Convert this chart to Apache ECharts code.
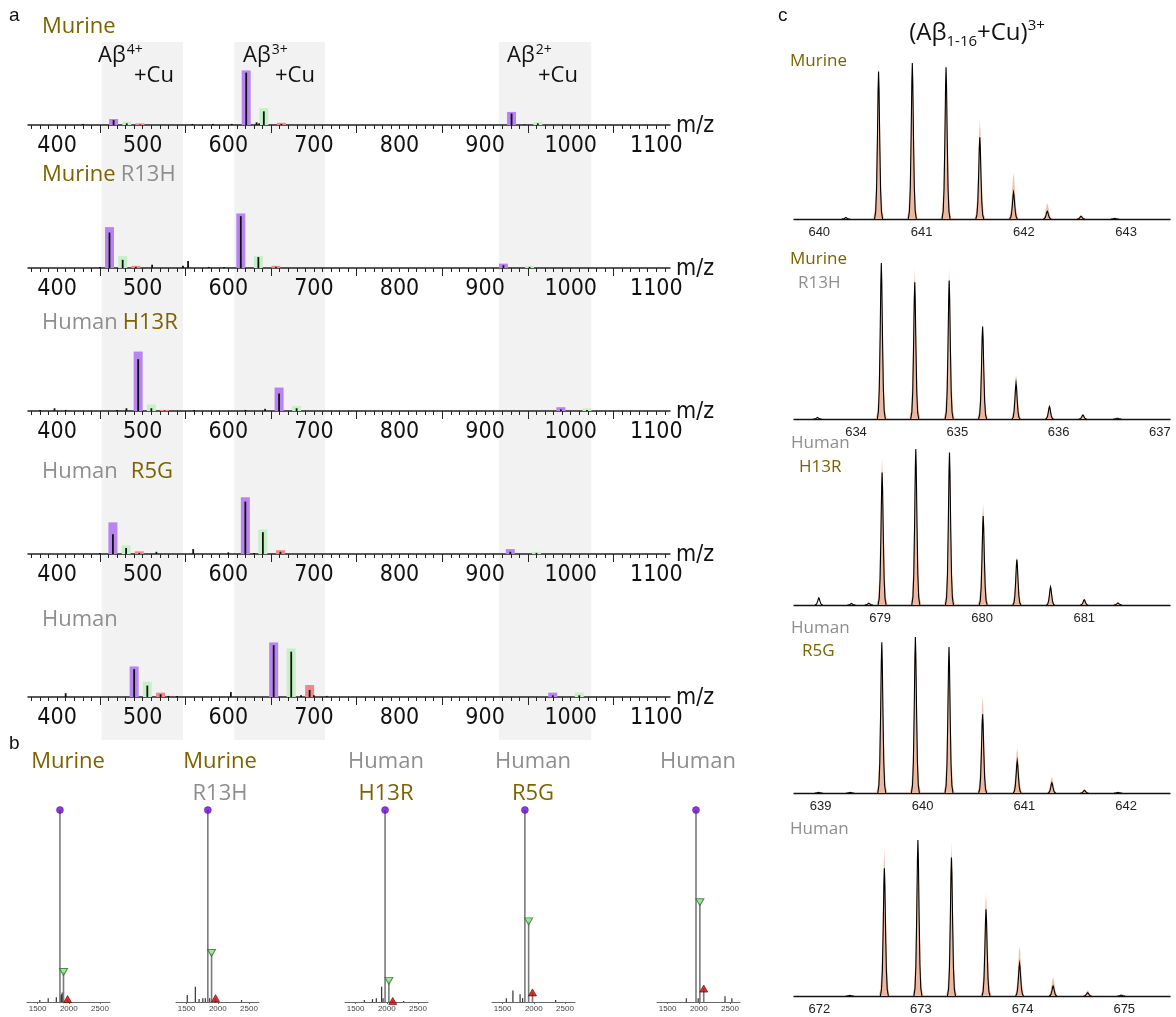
<!DOCTYPE html>
<html><head><meta charset="utf-8">
<script src="https://cdn.jsdelivr.net/npm/echarts@6/dist/echarts.min.js"></script>
<style>html,body{margin:0;padding:0;background:#fff}#c{width:1176px;height:1017px}</style>
</head><body><div id="c"></div>
<script>
// ================= DATA =================
// ---- panel a : full-range spectra (m/z, relative intensity) ----
const aTickLabels = [400, 500, 600, 700, 800, 900, 1000, 1100];
const aMajorTicks = [450, 550, 650, 750, 850, 950, 1050];
const aBandRanges = [[452, 547], [607, 713], [916, 1024]];
const aBandCharges = ['4+', '3+', '2+'];
const aTitleWords = [['Murine'], ['Murine', 'R13H'], ['Human', 'H13R'], ['Human', 'R5G'], ['Human']];
const aPurple = [
  [[466.0, 11], [620.9, 100], [930.9, 24]],
  [[461.2, 75], [614.6, 100], [921.4, 8]],
  [[494.7, 109], [659.3, 43], [988.5, 7]],
  [[465.2, 58], [619.9, 104], [929.4, 9]],
  [[490.0, 56], [653.0, 100], [979.0, 8]]
];
const aGreen = [
  [[481.4, 6], [641.5, 31], [961.6, 5]],
  [[476.6, 22], [635.1, 22], [952.0, 4]],
  [[510.1, 12], [679.8, 9], [1019.0, 5]],
  [[480.6, 16], [640.4, 45], [960.0, 4]],
  [[505.4, 28], [673.5, 89], [1010.0, 8]]
];
const aRed = [
  [[496.8, 3], [662.0, 4]],
  [[492.0, 4], [655.6, 4]],
  [[525.5, 2]],
  [[496.0, 5], [660.9, 7]],
  [[520.9, 8], [695.0, 22]]
];
const aSpectrum = [
  [[466.0, 9], [620.9, 96], [930.9, 21], [481.4, 3], [641.5, 25], [961.6, 3], [496.8, 1], [662.0, 2], [430, 2], [558, 2], [582, 2], [604, 2], [633, 5], [636, 3], [946, 1]],
  [[461.2, 65], [614.6, 95], [921.4, 5], [476.6, 15], [635.1, 20], [952.0, 2], [492.0, 2], [655.6, 2], [511, 6], [553, 13], [547, 4], [577, 2], [595, 2], [450, 2]],
  [[494.7, 95], [659.3, 32], [988.5, 3], [510.1, 5], [679.8, 5], [1019.0, 2], [525.5, 1], [397, 5], [481, 5], [470, 2], [643, 4], [620, 2], [560, 2], [380, 2], [410, 2]],
  [[465.2, 36], [619.9, 96], [929.4, 4], [480.6, 11], [640.4, 40], [960.0, 2], [496.0, 2], [660.9, 4], [516, 4], [559, 9], [600, 3], [450, 2], [630, 2]],
  [[490.0, 51], [653.0, 95], [979.0, 3], [505.4, 21], [673.5, 83], [1010.0, 3], [520.9, 5], [695.0, 13], [410, 7], [603, 9], [530, 2], [540, 2], [685, 3], [700, 3], [715, 2]]
];

// ---- panel b : deconvoluted mass spectra (mass, relative intensity) ----
const bTickLabels = [1500, 2000, 2500];
const bTitleWords = [['Murine'], ['Murine', 'R13H'], ['Human', 'H13R'], ['Human', 'R5G'], ['Human']];
const bApo = [[1858, 100], [1840, 100], [1972, 100], [1857, 100], [1955, 100]];
const bCu1 = [[1915, 15.6], [1900, 25.5], [2033, 11], [1917, 42], [2017, 52]];
const bCu2 = [[1980, 1.5], [1964, 2], [2095, 0.5], [1979, 5], [2079, 7]];
const bNoise = [
  [[1535, 1], [1670, 2], [1800, 2.5], [1870, 3], [1880, 4], [1895, 5]],
  [[1510, 3.6], [1640, 8], [1700, 1.5], [1760, 2], [1800, 2], [1870, 2], [2380, 1]],
  [[1640, 1], [1770, 1.5], [1832, 2], [1917, 8], [1940, 2], [2270, 0.5]],
  [[1560, 2], [1665, 6], [1780, 4], [1820, 2], [2350, 1]],
  [[1800, 2], [1990, 2], [2420, 3], [2530, 2]]
];

// ---- panel c : (Aβ1-16+Cu)3+ isotope patterns (m/z, relative intensity) ----
const cTitleWords = [['Murine'], ['Murine', 'R13H'], ['Human', 'H13R'], ['Human', 'R5G'], ['Human']];
const cRanges = [[639.753, 643.43], [633.388, 637.10], [678.157, 681.84], [638.738, 642.43], [671.751, 675.45]];
const cTickLabels = [[640, 641, 642, 643], [634, 635, 636, 637], [679, 680, 681], [639, 640, 641, 642], [672, 673, 674, 675]];
const cMeasured = [
  [[640.26, 0.01], [640.58, 0.946], [640.91, 1.0], [641.24, 0.972], [641.57, 0.524], [641.90, 0.17], [642.23, 0.05], [642.56, 0.017], [642.89, 0.004]],
  [[633.62, 0.01], [634.25, 1.0], [634.58, 0.876], [634.92, 0.887], [635.25, 0.593], [635.58, 0.229], [635.91, 0.079], [636.24, 0.026], [636.58, 0.005]],
  [[678.40, 0.045], [678.72, 0.01], [678.89, 0.012], [679.02, 0.85], [679.35, 1.0], [679.68, 0.978], [680.01, 0.571], [680.34, 0.292], [680.67, 0.116], [681.00, 0.034], [681.33, 0.013]],
  [[638.98, 0.004], [639.29, 0.004], [639.60, 0.966], [639.93, 1.0], [640.26, 0.936], [640.59, 0.504], [640.93, 0.205], [641.27, 0.066], [641.59, 0.017], [641.92, 0.004]],
  [[672.30, 0.004], [672.64, 0.818], [672.97, 1.0], [673.30, 0.887], [673.64, 0.556], [673.97, 0.209], [674.30, 0.064], [674.64, 0.021], [674.97, 0.006]]
];
const cTheory = [
  [[640.58, 1.0], [640.91, 1.0], [641.24, 0.98], [641.57, 0.65], [641.90, 0.30], [642.23, 0.105], [642.56, 0.03]],
  [[634.25, 0.95], [634.58, 0.98], [634.92, 0.98], [635.25, 0.636], [635.58, 0.293], [635.91, 0.10], [636.24, 0.02]],
  [[679.02, 0.968], [679.35, 1.0], [679.68, 0.99], [680.01, 0.667], [680.34, 0.318], [680.67, 0.12], [681.00, 0.034], [681.33, 0.01]],
  [[639.60, 0.996], [639.93, 1.0], [640.26, 0.974], [640.59, 0.641], [640.93, 0.295], [641.27, 0.107], [641.59, 0.028]],
  [[672.64, 0.968], [672.97, 0.99], [673.30, 1.0], [673.64, 0.675], [673.97, 0.327], [674.30, 0.124], [674.64, 0.038]]
];

// ================= STYLE / LAYOUT =================
const OLIVE = '#7c6300', GRAY = '#8e8e8e';
const WORD_COLOR = {Murine: OLIVE, Human: GRAY, R13H: GRAY, H13R: OLIVE, R5G: OLIVE};
const F_NARROW = "'Liberation Sans Narrow','Arial Narrow','DejaVu Sans Condensed',sans-serif";
const F_UI = "'Open Sans','Noto Sans',sans-serif";
const F_ARIAL = "'Liberation Sans',Arial,sans-serif";
const plain = v => String(v);

const aAxisY = [125, 268, 411, 554, 697], aGridH = 60, aLeft = 28, aWidth = 642, aXMin = 366, aXMax = 1116, aYMax = 110;
const aTitleY = [27, 175, 323, 472, 620], aTitleGap = [0, 5, 5, 13, 0];
const aAbX = [98, 243, 507], aCuX = [134, 275, 538];
const bLefts = [27, 176, 345, 492, 657], bW = 83, bTop = 810, bH = 192, bXMin = 1330, bXMax = 2660;
const bCenters = [68, 220, 386, 533, 698];
const cAxisY = [219, 419, 605, 793, 996], cH = 156, cLeft = 794, cW = 376;
const cTitlePos = [[[790, 61]], [[790, 259], [798, 283]], [[791, 443], [799, 467]], [[791, 628], [802, 651]], [[790, 829]]];

const mctx = document.createElement('canvas').getContext('2d');
function tw(t, size, fam) { mctx.font = size + 'px ' + fam; return mctx.measureText(t).width; }
function txt(x, y, text, size, color, family, align) {
  return {type: 'text', x: x, y: y, z: 100, silent: true,
    style: {text: text, fontSize: size, fontFamily: family, fill: color,
      align: align || 'left', verticalAlign: 'middle', textAlign: align || 'left', textVerticalAlign: 'middle'}};
}

// render helpers
function rectRender(w, color) {
  return function (params, api) {
    const b = api.coord([api.value(0), 0]);
    const t = api.coord([api.value(0), api.value(1)]);
    return {type: 'rect', shape: {x: b[0] - w / 2, y: t[1], width: w, height: Math.max(0.5, b[1] - t[1])}, style: {fill: color}};
  };
}
const shapeDx = [-1, -0.72, -0.5, -0.3, -0.12, 0, 0.12, 0.3, 0.5, 0.72, 1];
const shapeFy = [0, 0.05, 0.2, 0.52, 0.88, 1, 0.88, 0.52, 0.2, 0.05, 0];
function peakRender(halfW, kind) {
  return function (params, api) {
    const b = api.coord([api.value(0), 0]);
    const t = api.coord([api.value(0), api.value(1)]);
    const h = b[1] - t[1];
    const pts = shapeDx.map((d, i) => [b[0] + d * halfW, b[1] - shapeFy[i] * h]);
    if (kind === 'fill') {
      return {type: 'polygon', shape: {points: pts}, style: {fill: new echarts.graphic.LinearGradient(0, 0, 0, 1, [
        {offset: 0, color: 'rgba(244,212,198,0.35)'},
        {offset: 0.12, color: 'rgba(238,192,170,0.9)'},
        {offset: 1, color: 'rgba(234,184,160,1)'}])}};
    }
    return {type: 'polyline', shape: {points: pts}, style: {stroke: '#000', lineWidth: 1.1, fill: null}};
  };
}

const grids = [], xAxes = [], yAxes = [], series = [], graphics = [];

// ---- panel a background bands ----
grids.push({left: aLeft, top: 42, width: aWidth, height: 698});
xAxes.push({gridIndex: 0, type: 'value', min: aXMin, max: aXMax, show: false});
yAxes.push({gridIndex: 0, type: 'value', min: 0, max: 1, show: false});
series.push({type: 'custom', xAxisIndex: 0, yAxisIndex: 0, z: 0, silent: true, clip: false,
  data: aBandRanges,
  renderItem: function (params, api) {
    const p0 = api.coord([api.value(0), 1]);
    const p1 = api.coord([api.value(1), 0]);
    return {type: 'rect', shape: {x: p0[0], y: p0[1], width: p1[0] - p0[0], height: p1[1] - p0[1]}, style: {fill: '#f2f2f2'}};
  }});

// ---- panel a spectra ----
for (let i = 0; i < 5; i++) {
  const g = grids.length;
  grids.push({left: aLeft, top: aAxisY[i] - aGridH, width: aWidth, height: aGridH});
  const xi = xAxes.length;
  xAxes.push({gridIndex: g, type: 'value', min: aXMin, max: aXMax, position: 'bottom', z: 1,
    axisLine: {show: true, onZero: false, lineStyle: {color: '#222', width: 1.5}},
    axisTick: {show: true, customValues: Array.from({length: 75}, (_, k) => 370 + 10 * k), length: 4, lineStyle: {color: '#222', width: 1}},
    axisLabel: {customValues: aTickLabels, formatter: plain, fontSize: 23, fontFamily: F_NARROW, color: '#111', margin: 10},
    splitLine: {show: false}});
  xAxes.push({gridIndex: g, type: 'value', min: aXMin, max: aXMax, position: 'bottom', z: 1,
    axisLine: {show: false}, axisLabel: {show: false}, splitLine: {show: false},
    axisTick: {show: true, customValues: aMajorTicks, length: 8, lineStyle: {color: '#222', width: 1}}});
  const yi = yAxes.length;
  yAxes.push({gridIndex: g, type: 'value', min: 0, max: aYMax, show: false});
  const common = {type: 'custom', xAxisIndex: xi, yAxisIndex: yi, silent: true, clip: false};
  series.push(Object.assign({}, common, {z: 2, data: aPurple[i], renderItem: rectRender(9, '#b784f2')}));
  series.push(Object.assign({}, common, {z: 2, data: aGreen[i], renderItem: rectRender(9, '#c6f1c6')}));
  series.push(Object.assign({}, common, {z: 2, data: aRed[i], renderItem: rectRender(9, '#f08a8a')}));
  series.push(Object.assign({}, common, {z: 3, data: aSpectrum[i], renderItem: rectRender(1.8, '#111')}));

  // axis name m/z
  graphics.push(txt(aLeft + aWidth + 6, aAxisY[i] + 1, 'm/z', 23, '#111', F_NARROW));
  // titles
  let x = 42;
  aTitleWords[i].forEach((w, k) => {
    if (k > 0) x += aTitleGap[i];
    graphics.push(txt(x, aTitleY[i], w, 22, WORD_COLOR[w], F_UI));
    x += tw(w, 22, F_UI);
  });
}
// Aβ charge-state labels
aBandCharges.forEach((ch, k) => {
  graphics.push(txt(aAbX[k], 56, 'Aβ', 22, '#111', F_UI));
  graphics.push(txt(aAbX[k] + tw('Aβ', 22, F_UI) + 1, 50, ch, 14, '#111', F_UI));
  graphics.push(txt(aCuX[k], 76, '+Cu', 22, '#111', F_UI));
});

// ---- panel b ----
for (let i = 0; i < 5; i++) {
  const g = grids.length;
  grids.push({left: bLefts[i], top: bTop, width: bW, height: bH});
  const xi = xAxes.length;
  xAxes.push({gridIndex: g, type: 'value', min: bXMin, max: bXMax, position: 'bottom',
    axisLine: {show: true, onZero: false, lineStyle: {color: '#666', width: 1}},
    axisTick: {show: true, customValues: bTickLabels, length: 2, lineStyle: {color: '#666'}},
    axisLabel: {customValues: bTickLabels, formatter: plain, fontSize: 8, fontFamily: F_ARIAL, color: '#444', margin: 3},
    splitLine: {show: false}});
  const yi = yAxes.length;
  yAxes.push({gridIndex: g, type: 'value', min: 0, max: 100, show: false});
  const common = {xAxisIndex: xi, yAxisIndex: yi, silent: true};
  series.push(Object.assign({type: 'custom', clip: false, z: 2, data: bNoise[i], renderItem: rectRender(1.2, '#333')}, common));
  series.push(Object.assign({type: 'custom', clip: false, z: 2, data: [bApo[i], bCu1[i], bCu2[i]], renderItem: rectRender(1.6, '#7a7a7a')}, common));
  series.push(Object.assign({type: 'scatter', z: 4, data: [bApo[i]], symbol: 'circle', symbolSize: 7,
    itemStyle: {color: '#6a0ad8', borderColor: '#3d0080', borderWidth: 0.5}}, common));
  series.push(Object.assign({type: 'scatter', z: 4, data: [bCu1[i]], symbol: 'triangle', symbolSize: [8, 7], symbolRotate: 180,
    itemStyle: {color: '#86e486', borderColor: '#2d6e2d', borderWidth: 1}}, common));
  series.push(Object.assign({type: 'scatter', z: 4, data: [bCu2[i]], symbol: 'triangle', symbolSize: [8, 7],
    itemStyle: {color: '#d80000', borderColor: '#5a0000', borderWidth: 0.8}}, common));
  bTitleWords[i].forEach((w, k) => {
    graphics.push(txt(bCenters[i], 762 + 32 * k, w, 22, WORD_COLOR[w], F_UI, 'center'));
  });
}

// ---- panel c ----
for (let i = 0; i < 5; i++) {
  const g = grids.length;
  grids.push({left: cLeft, top: cAxisY[i] - cH, width: cW, height: cH});
  const xi = xAxes.length;
  xAxes.push({gridIndex: g, type: 'value', min: cRanges[i][0], max: cRanges[i][1], position: 'bottom',
    axisLine: {show: true, onZero: false, lineStyle: {color: '#111', width: 1.3}},
    axisTick: {show: false},
    axisLabel: {customValues: cTickLabels[i], formatter: plain, fontSize: 13, fontFamily: F_ARIAL, color: '#222', margin: 7},
    splitLine: {show: false}});
  const yi = yAxes.length;
  yAxes.push({gridIndex: g, type: 'value', min: 0, max: 1, show: false});
  series.push({type: 'custom', xAxisIndex: xi, yAxisIndex: yi, silent: true, clip: false, z: 2, data: cTheory[i], renderItem: peakRender(5.5, 'fill')});
  series.push({type: 'custom', xAxisIndex: xi, yAxisIndex: yi, silent: true, clip: false, z: 3, data: cMeasured[i], renderItem: peakRender(4, 'line')});
  cTitleWords[i].forEach((w, k) => {
    graphics.push(txt(cTitlePos[i][k][0], cTitlePos[i][k][1], w, 17, WORD_COLOR[w], F_UI));
  });
}

// panel letters
graphics.push(txt(9, 16, 'a', 19, '#111', F_ARIAL));
graphics.push(txt(9, 744, 'b', 19, '#111', F_ARIAL));
graphics.push(txt(778, 16, 'c', 19, '#111', F_ARIAL));

// title of panel c: (Aβ1-16+Cu)3+
(function () {
  const parts = [['(Aβ', 24, 33], ['1-16', 15, 42], ['+Cu)', 24, 33], ['3+', 15, 26]];
  let total = 0;
  parts.forEach(p => total += tw(p[0], p[1], F_UI));
  let x = 977 - total / 2;
  parts.forEach(p => { graphics.push(txt(x, p[2], p[0], p[1], '#111', F_UI)); x += tw(p[0], p[1], F_UI); });
})();

const chart = echarts.init(document.getElementById('c'), null, {renderer: 'canvas', width: 1176, height: 1017});
chart.setOption({
  animation: false,
  backgroundColor: '#fff',
  grid: grids,
  xAxis: xAxes,
  yAxis: yAxes,
  series: series,
  graphic: {elements: graphics}
});
</script>
</body></html>
